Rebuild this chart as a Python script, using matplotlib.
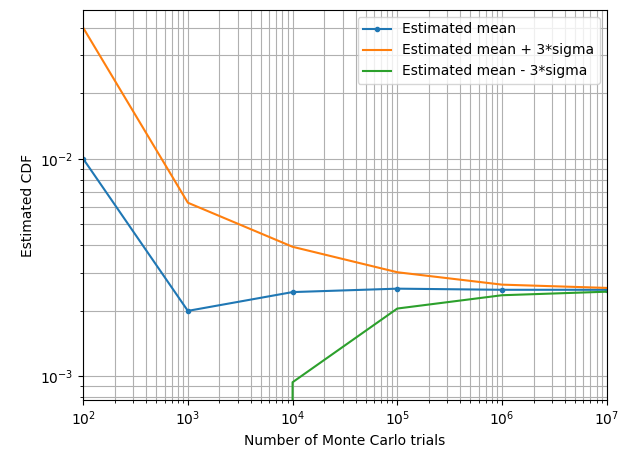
import numpy as np
import matplotlib
matplotlib.use("Agg")
import matplotlib.pyplot as plt

trials = [1e2, 1e3, 1e4, 1e5, 1e6, 1e7]
est_mean = [0.01, 0.002, 0.00244, 0.00253, 0.0025, 0.0025]
three_sigma = [0.03, 0.00428, 0.0015, 0.00048, 0.00014, 0.00005]

upper = np.array(est_mean) + np.array(three_sigma)
lower = np.array(est_mean) - np.array(three_sigma)

fig = plt.figure(figsize=(6.3, 4.54), dpi=100)
fig.subplots_adjust(left=0.132, right=0.963, top=0.978, bottom=0.119)

plt.loglog(trials, est_mean, '.-', label='Estimated mean')
plt.loglog(trials, upper, label='Estimated mean + 3*sigma')
plt.loglog(trials, lower, label='Estimated mean - 3*sigma')
plt.xlim(1e2, 1e7)
plt.grid(True, which='both')
plt.xlabel('Number of Monte Carlo trials')
plt.ylabel('Estimated CDF')
plt.legend()

plt.savefig('out.png')
